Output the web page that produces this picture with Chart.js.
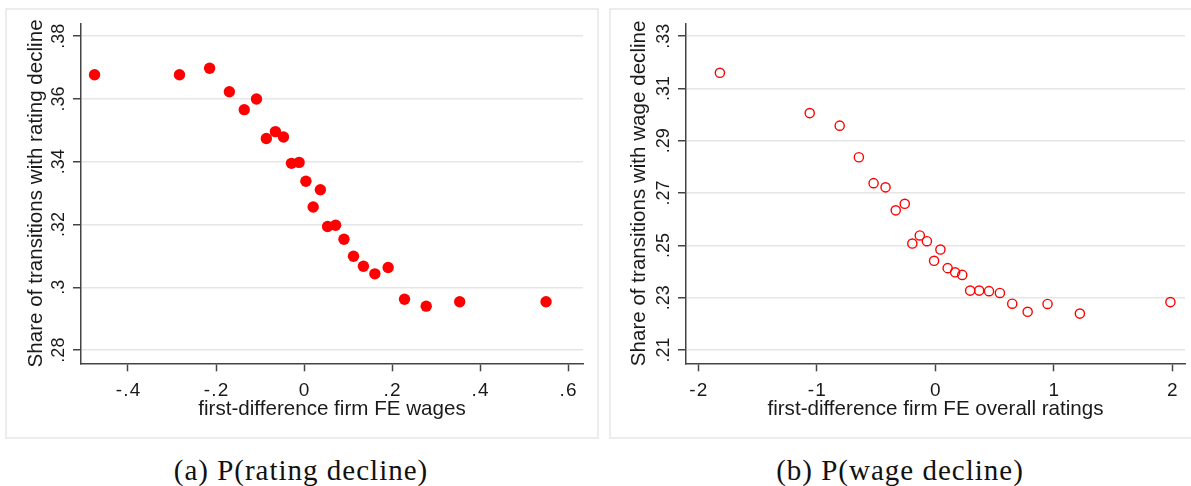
<!DOCTYPE html>
<html>
<head>
<meta charset="utf-8">
<script src="https://cdn.jsdelivr.net/npm/chart.js@4.4.1/dist/chart.umd.min.js"></script>
<style>
  html, body { margin: 0; padding: 0; background: #fff; }
  body { width: 1191px; height: 486px; position: relative; overflow: hidden; }
  .marco { position: absolute; border: 2px solid #ececec; box-sizing: border-box; }
  .lienzo { position: absolute; }
  .leyenda { position: absolute; font-family: "Liberation Serif", serif; font-size: 29px; line-height: 29px; letter-spacing: 1px; color: #111; white-space: nowrap; text-align: center; width: 600px; }
</style>
</head>
<body>
<div class="marco" style="left:5px;top:8px;width:594px;height:431px"></div>
<div class="marco" style="left:609px;top:8px;width:600px;height:431px"></div>
<canvas id="graficoA" class="lienzo" style="left:5px;top:8px" width="593" height="430"></canvas>
<canvas id="graficoB" class="lienzo" style="left:609px;top:8px" width="582" height="430"></canvas>
<div class="leyenda" style="left:1px;top:456px">(a) P(rating decline)</div>
<div class="leyenda" style="left:600px;top:456px">(b) P(wage decline)</div>
<script>
// panel (a): cambio en efecto fijo de salarios vs share con caída de rating
const salariosX = [-0.476, -0.283, -0.2145, -0.1696, -0.1358, -0.108, -0.0856, -0.0649, -0.0467, -0.0285, -0.0112, 0.0043, 0.0208, 0.0372, 0.0536, 0.0718, 0.0908, 0.1125, 0.135, 0.161, 0.1912, 0.2284, 0.2777, 0.3538, 0.550];
const caidaRating = [0.3677, 0.3677, 0.3698, 0.3623, 0.3566, 0.3600, 0.3474, 0.3496, 0.3479, 0.3395, 0.3398, 0.3338, 0.3256, 0.3311, 0.3194, 0.3198, 0.3153, 0.3099, 0.3067, 0.3043, 0.3063, 0.2962, 0.2940, 0.2954, 0.2954];
const ticksXA = [-0.4, -0.2, 0, 0.2, 0.4, 0.6];
const ticksYA = [0.28, 0.30, 0.32, 0.34, 0.36, 0.38];

// panel (b): cambio en efecto fijo de ratings vs share con caída salarial
const ratingsX = [-1.817, -1.059, -0.806, -0.644, -0.520, -0.419, -0.333, -0.257, -0.193, -0.130, -0.070, -0.0095, 0.044, 0.105, 0.168, 0.228, 0.295, 0.371, 0.454, 0.546, 0.650, 0.780, 0.948, 1.221, 1.985];
const caidaSalario = [0.3160, 0.3006, 0.2958, 0.2837, 0.2738, 0.2722, 0.2634, 0.2659, 0.2507, 0.2538, 0.2516, 0.2441, 0.2484, 0.2413, 0.2397, 0.2387, 0.2327, 0.2327, 0.2325, 0.2318, 0.2277, 0.2246, 0.2276, 0.2239, 0.2283];
const ticksXB = [-2, -1, 0, 1, 2];
const ticksYB = [0.21, 0.23, 0.25, 0.27, 0.29, 0.31, 0.33];

const COLOR_EJE = '#444';
const COLOR_GRILLA = '#e6e6e6';
const COLOR_TEXTO = '#1a1a1a';
const FUENTE = '"Liberation Sans", Arial, sans-serif';

// formato estilo Stata: sin cero a la izquierda
const formatoStata = (v) => {
  const r = Math.round(v * 100) / 100;
  if (r === 0) return '0';
  return String(r).replace(/^(-?)0\./, '$1.');
};

// etiquetas de ticks dibujadas a mano: las del eje y van rotadas como en Stata
const etiquetasEjes = {
  id: 'etiquetasEjes',
  afterDraw(chart) {
    const ctx = chart.ctx;
    const ex = chart.scales.x;
    const ey = chart.scales.y;
    ctx.save();
    ctx.fillStyle = COLOR_TEXTO;

    ctx.font = '19px ' + FUENTE;
    ctx.letterSpacing = '1.2px';
    ctx.textAlign = 'center';
    ctx.textBaseline = 'alphabetic';
    const yBase = ex.top + 32.7;
    ex.ticks.forEach((t) => {
      ctx.fillText(formatoStata(t.value), ex.getPixelForValue(t.value) + 0.6, yBase);
    });

    ctx.font = '18px ' + FUENTE;
    ctx.letterSpacing = '0px';
    const xBase = ey.right - 17;
    ey.ticks.forEach((t) => {
      ctx.save();
      ctx.translate(xBase, ey.getPixelForValue(t.value));
      ctx.rotate(-Math.PI / 2);
      ctx.fillText(formatoStata(t.value), 0, 0);
      ctx.restore();
    });
    ctx.restore();
  }
};

const crearGrafico = (id, xs, ys, cfg) => {
  const puntos = xs.map((x, i) => ({ x: x, y: ys[i] }));
  return new Chart(document.getElementById(id), {
    type: 'scatter',
    data: {
      datasets: [{
        data: puntos,
        pointRadius: cfg.radio,
        pointHoverRadius: cfg.radio,
        pointBackgroundColor: cfg.relleno,
        pointBorderColor: '#ff0000',
        pointBorderWidth: cfg.borde
      }]
    },
    options: {
      responsive: false,
      devicePixelRatio: 1,
      animation: false,
      events: [],
      layout: { padding: { left: 0, top: 15.5, right: cfg.padDer, bottom: 0 } },
      plugins: { legend: { display: false }, tooltip: { enabled: false } },
      scales: {
        x: {
          type: 'linear',
          min: cfg.xMin,
          max: cfg.xMax,
          afterBuildTicks: (s) => { s.ticks = cfg.ticksX.map((v) => ({ value: v })); },
          afterFit: (s) => { s.height = 74.7; s.paddingLeft = 0; s.paddingRight = 0; },
          border: { display: true, color: COLOR_EJE, width: 1.5 },
          grid: { drawOnChartArea: false, drawTicks: true, tickLength: 8, tickColor: COLOR_EJE, tickWidth: 1.5 },
          ticks: { display: false },
          title: {
            display: true,
            text: cfg.tituloX,
            font: { family: FUENTE, size: 20.6 },
            color: COLOR_TEXTO,
            padding: { top: 0, bottom: 16.7 }
          }
        },
        y: {
          type: 'linear',
          min: cfg.yMin,
          max: cfg.yMax,
          afterBuildTicks: (s) => { s.ticks = cfg.ticksY.map((v) => ({ value: v })); },
          afterFit: (s) => { s.width = cfg.anchoY; s.paddingTop = 0; s.paddingBottom = 0; },
          border: { display: true, color: COLOR_EJE, width: 1.5 },
          grid: { color: COLOR_GRILLA, lineWidth: 1.5, drawTicks: true, tickLength: 8, tickColor: COLOR_EJE, tickWidth: 1.5 },
          ticks: { display: false },
          title: {
            display: true,
            text: cfg.tituloY,
            font: { family: FUENTE, size: 20.6 },
            color: COLOR_TEXTO,
            padding: { top: cfg.padTituloY, bottom: 0 }
          }
        }
      }
    },
    plugins: [etiquetasEjes]
  });
};

crearGrafico('graficoA', salariosX, caidaRating, {
  radio: 5.7, relleno: '#ff0000', borde: 0, padDer: 15, anchoY: 76, padTituloY: 18.8,
  xMin: -0.5068, xMax: 0.634, yMin: 0.2758, yMax: 0.38405,
  ticksX: ticksXA, ticksY: ticksYA,
  tituloX: 'first-difference firm FE wages',
  tituloY: 'Share of transitions with rating decline'
});

crearGrafico('graficoB', ratingsX, caidaSalario, {
  radio: 4.6, relleno: 'rgba(0,0,0,0)', borde: 1.4, padDer: 3, anchoY: 77, padTituloY: 17.5,
  xMin: -2.103, xMax: 2.108, yMin: 0.2049, yMax: 0.33486,
  ticksX: ticksXB, ticksY: ticksYB,
  tituloX: 'first-difference firm FE overall ratings',
  tituloY: 'Share of transitions with wage decline'
});
</script>
</body>
</html>
